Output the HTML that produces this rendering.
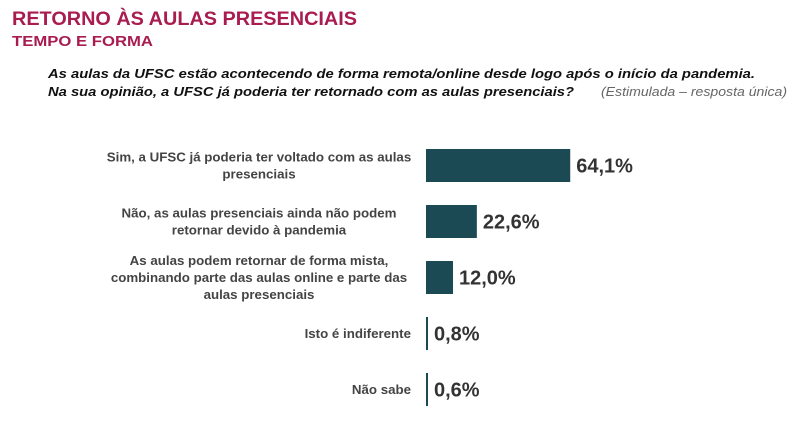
<!DOCTYPE html>
<html><head><meta charset="utf-8"><style>
body{margin:0;background:#fff;width:800px;height:433px;overflow:hidden;font-family:"Liberation Sans",sans-serif}
</style></head><body>
<svg width="800" height="433" xmlns="http://www.w3.org/2000/svg">
<text x="12" y="25" font-size="19" font-weight="bold" fill="#a81c50" textLength="345" lengthAdjust="spacingAndGlyphs">RETORNO ÀS AULAS PRESENCIAIS</text>
<text x="12" y="46" font-size="14.5" font-weight="bold" fill="#a81c50" textLength="141" lengthAdjust="spacingAndGlyphs">TEMPO E FORMA</text>
<text x="48" y="78" font-size="13" font-weight="bold" font-style="italic" fill="#111" textLength="707" lengthAdjust="spacingAndGlyphs">As aulas da UFSC estão acontecendo de forma remota/online desde logo após o início da pandemia.</text>
<text x="48" y="96" font-size="13" font-weight="bold" font-style="italic" fill="#111" textLength="526" lengthAdjust="spacingAndGlyphs">Na sua opinião, a UFSC já poderia ter retornado com as aulas presenciais?</text>
<text x="601" y="96" font-size="12.5" font-style="italic" fill="#666" textLength="186" lengthAdjust="spacingAndGlyphs">(Estimulada – resposta única)</text>
<g id="bars"></g>
</svg>
<script>
const categories=[["Sim, a UFSC já poderia ter voltado com as aulas","presenciais"],["Não, as aulas presenciais ainda não podem","retornar devido à pandemia"],["As aulas podem retornar de forma mista,","combinando parte das aulas online e parte das","aulas presenciais"],["Isto é indiferente"],["Não sabe"]];
const values=[64.1,22.6,12.0,0.8,0.6];
const valueLabels=["64,1%","22,6%","12,0%","0,8%","0,6%"];
const ns="http://www.w3.org/2000/svg";
const g=document.getElementById('bars');
const x0=426, scale=2.25, y0=149, step=56, bh=33;
function xw(v){return Math.max(v*scale,2);}
function yb(i){return y0+i*step;}
values.forEach((v,i)=>{
  const r=document.createElementNS(ns,'rect');
  
  
  r.setAttribute('x',x0);r.setAttribute('y',yb(i));
  r.setAttribute('width',xw(v));r.setAttribute('height',bh);
  r.setAttribute('fill','#1b4a55');
  g.appendChild(r);
  const t=document.createElementNS(ns,'text');
  
  
  t.setAttribute('x',x0+xw(v)+6);t.setAttribute('y',yb(i)+bh/2+7);
  t.setAttribute('font-size','20');t.setAttribute('font-weight','bold');t.setAttribute('fill','#333');
  t.textContent=valueLabels[i];
  g.appendChild(t);
  const lines=categories[i];
  const lh=17;
  const cy=yb(i)+bh/2;
  lines.forEach((ln,j)=>{
    const c=document.createElementNS(ns,'text');
    
    
    c.setAttribute('x',i>=3?411:259);
    c.setAttribute('text-anchor',i>=3?'end':'middle');
    c.setAttribute('y',cy-(lines.length-1)*lh/2+j*lh+4.5);
    c.setAttribute('font-size','13.3');c.setAttribute('font-weight','bold');c.setAttribute('fill','#444');
    c.textContent=ln;
    g.appendChild(c);
  });
});
</script>
</body></html>
